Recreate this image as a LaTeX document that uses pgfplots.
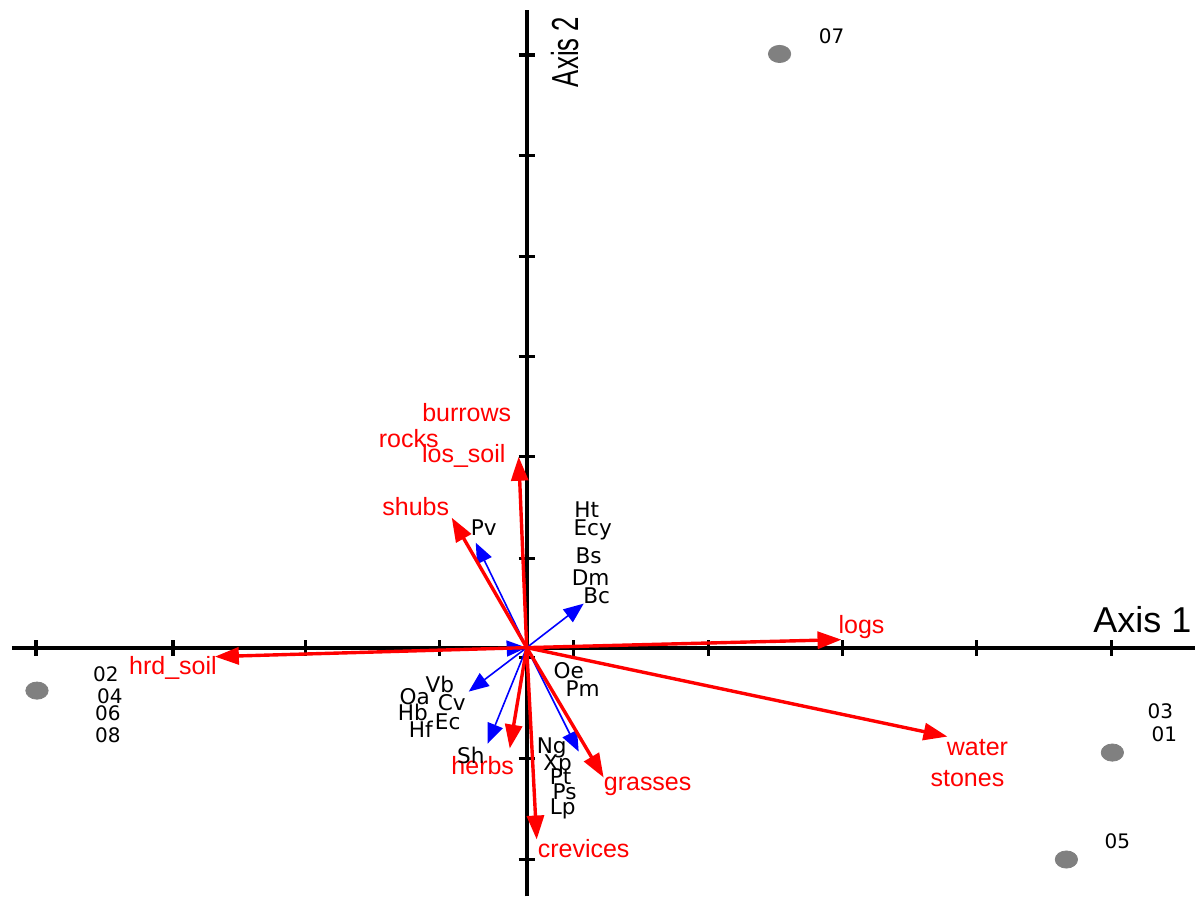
\documentclass[border=0pt]{standalone}
\usepackage{pgfplots}
\pgfplotsset{compat=1.18}
\usepackage{pgfplotstable}
\usetikzlibrary{arrows.meta}
\usepackage{graphicx}
\usepackage{fontspec}
\setmainfont{Liberation Sans}
\newfontfamily\dejavu{DejaVu Sans}

% environment variable labels (red)
\pgfplotstableread{
x y label
-60 235 burrows
-118 209 rocks
-63 192 los\_soil
-111 141 shubs
335 21 logs
-354 -20 hrd\_soil
-44 -118 herbs
121 -139 grasses
57 -201 crevices
451 -100 water
441 -131 stones
}\redlabels

% species labels (black)
\pgfplotstableread{
x y label
-43 120 Pv
60 138 Ht
66 118 Ecy
62 92 Bs
64 70 Dm
70 52 Bc
42 -23 Oe
56 -41 Pm
-87 -37 Vb
-112 -49 Oa
-75 -55 Cv
-114 -65 Hb
-79 -74 Ec
-106 -82 Hf
-56 -108 Sh
25 -100 Ng
31 -117 Xp
34 -129 Pt
38 -144 Ps
36 -161 Lp
}\species

% site labels
\pgfplotstableread{
x y label
305 612 07
-421 -27 02
-417 -49 04
-419 -66 06
-419 -88 08
634 -64 03
638 -87 01
591 -194 05
}\sitelabels

% site scores
\pgfplotstableread{
x y
253 594
-490 -43
586 -105
540 -212
}\sites

\begin{document}
\begin{tikzpicture}
\begin{axis}[
  x=0.5pt, y=0.5pt,
  xmin=-515, xmax=669, ymin=-249, ymax=638,
  enlargelimits=false,
  axis lines=middle,
  axis line style={-, line width=1.9pt, black},
  every inner x axis line/.append style={-},
  every inner y axis line/.append style={-},
  xtick={-491,-354,-221,-87,47,182,316,450,585},
  ytick={-212,-111,-10,89,191,291,391,492,593},
  xticklabels={}, yticklabels={},
  tick align=center,
  major tick length=8pt,
  tick style={black, line width=1.6pt},
  clip=false,
  xlabel={Axis 1},
  ylabel={\scalebox{1}[1.46]{Axis 2}},
  every axis x label/.style={at={(axis cs:616,28)}, anchor=center, font=\fontsize{18}{20}\selectfont},
  every axis y label/.style={at={(axis cs:38,596)}, rotate=90, anchor=center, font=\fontsize{12.9}{15}\selectfont},
]
\path (axis cs:-527,-249) rectangle (axis cs:671,648);

% species arrows (blue)
\addplot[blue, line width=0.8pt, -{Triangle[length=10pt,width=8pt]}] coordinates {(0,0) (-51,105)};
\addplot[blue, line width=0.8pt, -{Triangle[length=10pt,width=8pt]}] coordinates {(0,0) (57,44)};
\addplot[blue, line width=0.8pt, -{Triangle[length=10pt,width=8pt]}] coordinates {(0,0) (-58,-44)};
\addplot[blue, line width=0.8pt, -{Triangle[length=10pt,width=8pt]}] coordinates {(0,0) (-39,-96)};
\addplot[blue, line width=0.8pt, -{Triangle[length=10pt,width=8pt]}] coordinates {(0,0) (52,-104)};
\addplot[blue, line width=0.8pt, -{Triangle[length=10pt,width=8pt]}] coordinates {(-22,-1) (0,0)};

% environmental arrows (red)
\addplot[red, line width=1.7pt, -{Triangle[length=12pt,width=8.5pt]}] coordinates {(0,0) (315,8)};
\addplot[red, line width=1.7pt, -{Triangle[length=12pt,width=8.5pt]}] coordinates {(0,0) (-312,-9)};
\addplot[red, line width=1.7pt, -{Triangle[length=12pt,width=8.5pt]}] coordinates {(0,0) (421,-89)};
\addplot[red, line width=1.7pt, -{Triangle[length=12pt,width=8.5pt]}] coordinates {(0,0) (77,-130)};
\addplot[red, line width=1.7pt, -{Triangle[length=12pt,width=8.5pt]}] coordinates {(0,0) (10,-192)};
\addplot[red, line width=1.7pt, -{Triangle[length=12pt,width=8.5pt]}] coordinates {(0,0) (-17,-101)};
\addplot[red, line width=1.7pt, -{Triangle[length=12pt,width=8.5pt]}] coordinates {(0,0) (-8,191)};
\addplot[red, line width=1.7pt, -{Triangle[length=12pt,width=8.5pt]}] coordinates {(0,0) (-75,130)};

% sites
\addplot[only marks, mark=*, mark size=4.3pt, color=gray, mark options={fill=gray, draw=none, xscale=1.3}] table {\sites};

% labels
\addplot[draw=none, mark=none, nodes near coords, point meta=explicit symbolic,
  every node near coord/.style={anchor=center, inner sep=0pt, text=red, font=\fontsize{12.5}{15}\selectfont}]
  table[meta=label] {\redlabels};
\addplot[draw=none, mark=none, nodes near coords, point meta=explicit symbolic,
  every node near coord/.style={anchor=center, inner sep=0pt, text=black, font=\dejavu\fontsize{10.8}{12}\selectfont}]
  table[meta=label] {\species};
\addplot[draw=none, mark=none, nodes near coords, point meta=explicit symbolic,
  every node near coord/.style={anchor=center, inner sep=0pt, text=black, font=\dejavu\fontsize{10}{11}\selectfont}]
  table[meta=label] {\sitelabels};
\end{axis}
\end{tikzpicture}
\end{document}
